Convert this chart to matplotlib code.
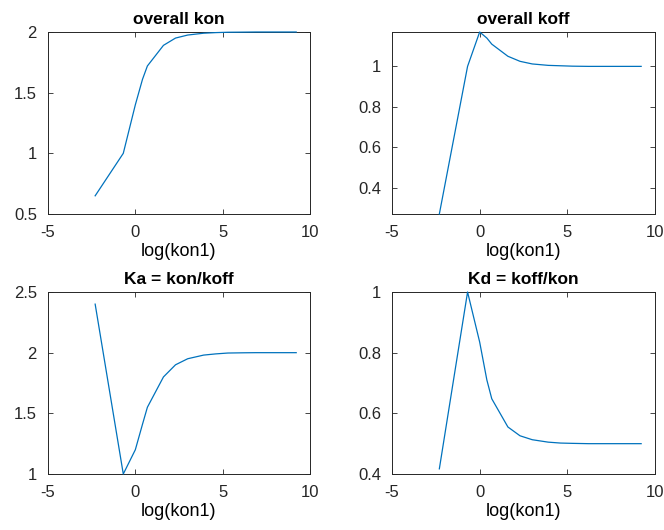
import matplotlib
matplotlib.use("Agg")
import matplotlib.pyplot as plt

# log(kon1) values
log_kon1 = [-2.30, -0.69, 0.0, 0.41, 0.69, 1.61, 2.30, 3.00, 3.91, 4.61, 5.30, 6.21, 6.91, 9.21]

kon = [0.65, 1.0, 1.40, 1.61, 1.72, 1.89, 1.95, 1.975, 1.99, 1.995, 1.998, 1.999, 2.0, 2.0]
koff = [0.27, 1.0, 1.17, 1.14, 1.11, 1.05, 1.025, 1.012, 1.005, 1.003, 1.001, 1.0, 1.0, 1.0]
ka = [2.40, 1.0, 1.20, 1.41, 1.55, 1.80, 1.90, 1.95, 1.98, 1.99, 1.997, 1.999, 2.0, 2.0]
kd = [0.417, 1.0, 0.835, 0.71, 0.648, 0.555, 0.526, 0.513, 0.505, 0.502, 0.501, 0.5, 0.5, 0.5]

titles = ["overall kon", "overall koff", "Ka = kon/koff", "Kd = koff/kon"]
xticks = [-5, 0, 5, 10]
yticks = [[0.5, 1, 1.5, 2], [0.4, 0.6, 0.8, 1], [1, 1.5, 2, 2.5], [0.4, 0.6, 0.8, 1]]
ylims = [(0.5, 2), (0.27, 1.17), (1, 2.5), (0.4, 1)]

plt.rcParams['font.family'] = ['Liberation Sans', 'DejaVu Sans']
plt.rcParams['axes.unicode_minus'] = False

W, H = 664, 530
fig = plt.figure(figsize=(W / 100, H / 100), dpi=100)

# axes boxes in pixels: left, top, right, bottom
boxes = [(48, 32, 310, 214), (392, 32, 655, 214),
         (48, 292, 310, 474), (392, 292, 655, 474)]

for i, series in enumerate([kon, koff, ka, kd]):
    l, t, r, b = boxes[i]
    ax = fig.add_axes([l / W, 1 - b / H, (r - l) / W, (b - t) / H])
    ax.plot(log_kon1, series, color='#0072BD', lw=0.9, clip_on=False, zorder=3)
    ax.set_xlim(-5, 10)
    ax.set_ylim(*ylims[i])
    ax.set_xticks(xticks)
    ax.set_yticks(yticks[i])
    ax.set_yticklabels([f"{v:g}" for v in yticks[i]])
    ax.set_title(titles[i], fontweight='bold', fontsize=12.5, pad=6)
    ax.set_xlabel("log(kon1)", fontsize=13, labelpad=2)
    ax.tick_params(direction='in', top=True, right=True, length=3.5,
                   width=0.6, color='#262626', labelcolor='#262626',
                   labelsize=12)
    ax.tick_params(axis='x', pad=8)
    ax.tick_params(axis='y', pad=8)
    for s in ax.spines.values():
        s.set_color('#262626')
        s.set_linewidth(0.7)

fig.savefig("out.png", dpi=100)
